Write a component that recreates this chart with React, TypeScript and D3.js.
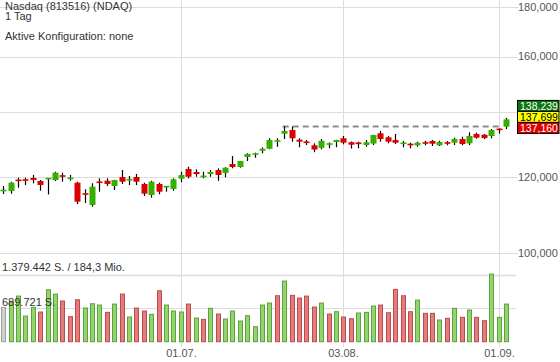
import React from 'react';
import * as d3 from 'd3';

const W = 560;
const H = 362;

// daily OHLC + volume
const open = [
  116050, 116050, 119140, 119230, 119710, 118860, 119480, 119140, 120370, 119540,
  118380, 115310, 112230, 118580, 118940, 117450, 120000, 119000, 120000, 118010,
  114950, 118010, 117220, 116610, 119510, 122310, 121440, 120110, 120860, 122020,
  121150, 123790, 122900, 125880, 126700, 127790, 128400, 130720, 133070, 134260,
  131180, 130470, 129440, 128670, 129780, 130470, 131630, 130410, 130150, 129530,
  130000, 133200, 131930, 131090, 130000, 129930, 129440, 130220, 130780, 129440,
  130220, 130250, 131400, 130060, 132980, 132760, 132350, 134550, 135320,
];
const high = [
  117450, 118660, 119800, 119800, 120570, 119140, 119710, 121530, 121240, 120570,
  118660, 116520, 118210, 119620, 119620, 119200, 122020, 120290, 120860, 118380,
  118940, 118380, 117450, 119620, 121530, 122990, 122220, 121530, 122020, 122520,
  122820, 126180, 124700, 127000, 127180, 128820, 131630, 131630, 135400, 135400,
  131630, 131090, 130060, 131400, 130310, 131150, 132350, 130630, 130560, 131090,
  132700, 133940, 132350, 132980, 130780, 130250, 130560, 130780, 131090, 130870,
  130780, 131820, 132130, 133530, 133400, 132980, 134580, 134800, 138239,
];
const low = [
  115230, 115310, 116970, 117730, 118210, 116130, 115090, 118860, 118660, 118940,
  112500, 112770, 111780, 115860, 117450, 116330, 118010, 117730, 117730, 114680,
  114210, 115140, 115860, 116130, 118490, 119620, 120080, 119620, 120080, 118940,
  119910, 122520, 122700, 124670, 125660, 126990, 128220, 129000, 131390, 130560,
  128850, 129530, 127320, 128220, 128520, 128850, 129750, 128460, 128520, 129000,
  129530, 130560, 130060, 129840, 128820, 128520, 129000, 129440, 129220, 129220,
  129440, 129530, 129440, 129530, 131500, 131400, 131630, 133140, 134580,
];
const close = [
  116330, 118380, 118940, 119060, 119140, 117730, 119620, 121240, 120200, 119680,
  113120, 115140, 117250, 118410, 118010, 119140, 118660, 119430, 118660, 115310,
  118660, 115860, 117330, 119340, 120570, 120080, 120860, 120230, 121440, 120570,
  122700, 122900, 124670, 126780, 126850, 128370, 131090, 130840, 133940, 131630,
  130560, 130280, 128150, 130840, 129900, 131090, 130250, 129620, 129970, 130380,
  132660, 131400, 130560, 130250, 130120, 129440, 130250, 130090, 129930, 130470,
  130090, 131400, 129840, 132350, 131810, 131700, 134260, 134390, 137699,
];
const volume = [
  707000, 822000, 939000, 528000, 707000, 611000, 1069000, 980000, 837000, 514000,
  863000, 693000, 781000, 754000, 604000, 775000, 980000, 508000, 693000, 631000,
  563000, 1048000, 754000, 631000, 611000, 775000, 487000, 460000, 687000, 569000,
  467000, 631000, 425000, 535000, 308000, 754000, 796000, 946000, 1248000, 954000,
  898000, 939000, 713000, 796000, 569000, 617000, 508000, 473000, 590000, 604000,
  734000, 754000, 596000, 1077000, 946000, 617000, 857000, 584000, 584000, 446000,
  481000, 687000, 502000, 652000, 502000, 432000, 1392000, 502000, 775000,
];

const priceTicks = [100000, 120000, 140000, 160000, 180000];
const xTickIndex = [24, 46, 67];
const xTickLabels = ['01.07.', '03.08.', '01.09.'];

const volMax = 1379442;
const volMaxLabel = '1.379.442 S. / 184,3 Mio.';
const volHalfLabel = '689.721 S.';

const resistance = 135400;
const resistanceFrom = 38;
const resistanceTo = 67;

const badgeValues = [138239, 137699, 137160];
const badgeFill = ['#0b760b', '#ffff00', '#e00000'];
const badgeInk = ['#ffffff', '#000000', '#ffffff'];

const titleLines = ['Nasdaq (813516) (NDAQ)', '1 Tag'];
const configLine = 'Aktive Konfiguration: none';

const font = "'Liberation Sans', Arial, sans-serif";
const grid = '#dcdcdc';

export default function App() {
  const n = close.length;
  const x = d3.scaleLinear().domain([0, n - 1]).range([3.3, 506]);
  const y = d3.scaleLog().domain([100000, 180000]).range([253.3, 7.3]);
  const yv = d3.scaleLinear().domain([0, volMax]).range([341.7, 274.7]);
  const fmt = d3.format(',');

  const cx = (i: number) => Math.round(x(i)) + 0.5;

  const lastY = y(close[n - 1]) - 2.5;
  const bh = 11;

  return (
    <svg
      width={W}
      height={H}
      style={{ position: 'absolute', left: 0, top: 0, background: '#fff' }}
      fontFamily={font}
    >
      {/* vertical grid */}
      {xTickIndex.map((i) => (
        <line key={'vg' + i} x1={cx(i)} x2={cx(i)} y1={0} y2={347} stroke={grid} />
      ))}
      {/* price grid + labels */}
      {priceTicks.map((t) => (
        <g key={'pg' + t}>
          <line x1={0} x2={518} y1={Math.round(y(t)) + 0.5} y2={Math.round(y(t)) + 0.5} stroke={grid} />
          <text x={518} y={y(t)} dy="0.35em" fontSize={11} fill="#555">
            {fmt(t)}
          </text>
        </g>
      ))}
      {/* volume grid */}
      {[volMax, volMax / 2].map((v, k) => (
        <line
          key={'vgr' + k}
          x1={0}
          x2={516}
          y1={Math.round(yv(v)) + 0.5}
          y2={Math.round(yv(v)) + 0.5}
          stroke={grid}
          strokeWidth={k === 0 ? 1.5 : 1}
        />
      ))}

      {/* title */}
      {titleLines.map((t, k) => (
        <text key={'t' + k} x={5} y={10 + k * 10} fontSize={11} fill="#333">
          {t}
        </text>
      ))}
      <text x={5} y={39.5} fontSize={11} fill="#333">
        {configLine}
      </text>

      {/* volume bars */}
      {volume.map((v, i) => {
        const up = i > 0 ? close[i] >= close[i - 1] : null;
        const fill = up === null ? '#cfcfcf' : up ? '#93d46f' : '#e67b7b';
        const stroke = up === null ? '#a0a0a0' : up ? '#5aa23a' : '#b84c4c';
        const top = yv(v);
        return (
          <rect
            key={'v' + i}
            x={cx(i) - 2}
            y={top}
            width={4}
            height={yv(0) - top}
            fill={fill}
            stroke={stroke}
            strokeWidth={1}
          />
        );
      })}
      <text x={2} y={271} fontSize={11} fill="#333">
        {volMaxLabel}
      </text>
      <text x={2} y={305.5} fontSize={11} fill="#333">
        {volHalfLabel}
      </text>

      {/* resistance line */}
      <line
        x1={x(resistanceFrom) - 1.5}
        x2={x(resistanceTo) + 2.5}
        y1={y(resistance)}
        y2={y(resistance)}
        stroke="#8c8c8c"
        strokeWidth={2}
        strokeDasharray="6,4"
      />

      {/* candles */}
      {close.map((c, i) => {
        const o = open[i];
        const up = c >= o;
        const yTop = y(Math.max(o, c));
        const yBot = y(Math.min(o, c));
        const hBody = Math.max(1.6, yBot - yTop);
        return (
          <g key={'c' + i}>
            <line x1={cx(i)} x2={cx(i)} y1={y(high[i])} y2={y(low[i])} stroke="#000" strokeWidth={1.2} />
            <rect
              x={cx(i) - 3}
              y={hBody === 1.6 ? (yTop + yBot) / 2 - 0.8 : yTop}
              width={6}
              height={hBody}
              fill={up ? '#36b000' : '#dc0000'}
            />
          </g>
        );
      })}

      {/* price badges */}
      {badgeValues.map((v, k) => {
        const top = lastY - bh / 2 + (k - 1) * bh;
        return (
          <g key={'b' + k}>
            <rect x={517.5} y={top} width={41.5} height={bh} fill={badgeFill[k]} stroke="#000" strokeWidth={1} />
            <text x={520} y={top + bh / 2} dy="0.36em" fontSize={10.5} fill={badgeInk[k]}>
              {fmt(v)}
            </text>
          </g>
        );
      })}

      {/* x labels */}
      {xTickIndex.map((i, k) => (
        <text key={'xl' + i} x={cx(i)} y={356.5} fontSize={11} fill="#555" textAnchor="middle">
          {xTickLabels[k]}
        </text>
      ))}
    </svg>
  );
}
